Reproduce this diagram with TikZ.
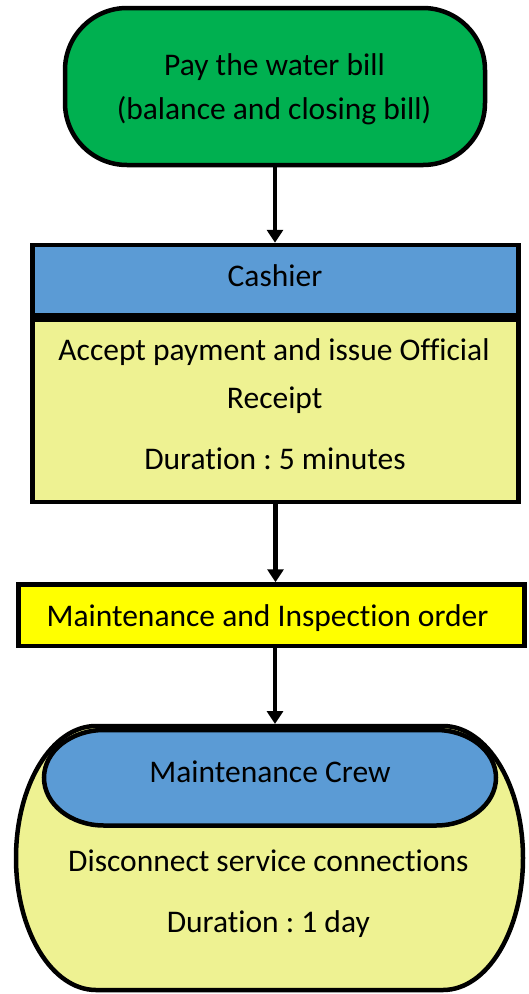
\documentclass[tikz,border=0pt]{standalone}
\usepackage{fontspec}
\setmainfont{Carlito}[RawFeature={-liga}]
\usetikzlibrary{arrows.meta}
\frenchspacing
\definecolor{termgreen}{HTML}{00B050}
\definecolor{headblue}{HTML}{5B9BD5}
\definecolor{paleyellow}{HTML}{EEF292}
\definecolor{brightyellow}{HTML}{FFFF00}
\tikzset{
  box/.style={draw=black, line width=4.5pt, rectangle, inner sep=0pt},
  txt/.style={inner sep=0pt, anchor=base, font=\fontsize{31.5}{45}\selectfont},
  conn/.style={line width=4.5pt, -{Triangle[width=16pt,length=13pt]}},
  outline/.style={draw=black, line width=4.5pt}
}
\begin{document}
\begin{tikzpicture}[x=1pt,y=-1pt]
\frenchspacing
\useasboundingbox (0,0) rectangle (529,994);
% terminal
\node[box, fill=termgreen, rounded corners=62pt, minimum width=420pt, minimum height=157pt]
  (pay) at (275,86.5) {};
\node[txt] (pay1) at (274.5,75) {Pay the water bill};
\node[txt] (pay2) at (274,119.5) {(balance and closing bill)};
% cashier
\node[box, fill=headblue, minimum width=486pt, minimum height=70.5pt]
  (cashier) at (275.5,280.25) {};
\node[txt] (cashiert) at (275,286.5) {Cashier};
\node[box, fill=paleyellow, minimum width=486pt, minimum height=182.5pt]
  (receipt) at (275.5,410.75) {};
\node[txt] (rec1) at (274,360.7) {Accept payment and issue Official};
\node[txt] (rec2) at (274.7,408.3) {Receipt};
\node[txt] (rec3) at (275,469.3) {Duration : 5 minutes};
% order
\node[box, fill=brightyellow, minimum width=506pt, minimum height=61.5pt]
  (order) at (271.5,615.25) {};
\node[txt] (ordert) at (267.5,626) {Maintenance and Inspection order};
% crew shape
\path[outline, fill=paleyellow] (96,726) -- (443,726)
  arc[start angle=90, end angle=-90, x radius=80, y radius=-132] -- (96,990)
  arc[start angle=270, end angle=90, x radius=80, y radius=-132] -- cycle;
\path[outline, fill=headblue] (104,730) -- (436,730)
  arc[start angle=90, end angle=-90, x radius=60, y radius=-47.75] -- (104,825.5)
  arc[start angle=270, end angle=90, x radius=60, y radius=-47.75] -- cycle;
\coordinate (crewtop) at (275,724);
\node[txt] (crew) at (270,782.3) {Maintenance Crew};
\node[txt] (disc) at (268.3,871) {Disconnect service connections};
\node[txt] (dur) at (268.3,932.3) {Duration : 1 day};
% connectors
\draw[conn] (pay.south) -- (pay.south |- cashier.north);
\draw[conn] (receipt.south) -- (receipt.south |- order.north);
\draw[conn] (order.south -| crewtop) -- (crewtop);
\end{tikzpicture}
\end{document}
